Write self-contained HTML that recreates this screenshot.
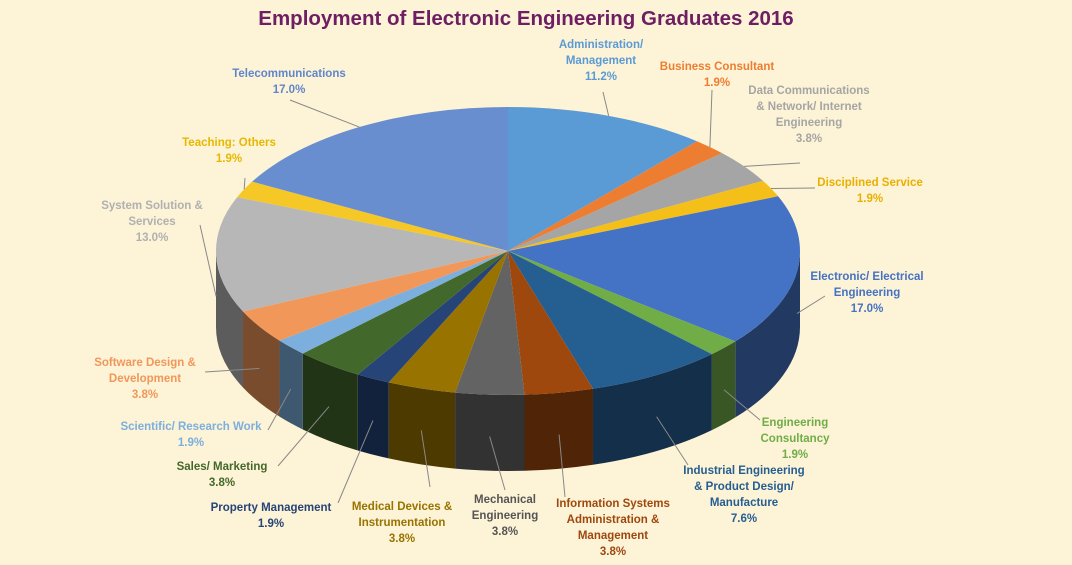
<!DOCTYPE html>
<html><head><meta charset="utf-8">
<style>
html,body{margin:0;padding:0;background:#fdf3d6;}
svg{display:block;font-family:"Liberation Sans",sans-serif;}
</style></head>
<body>
<svg id="chart" width="1072" height="565" viewBox="0 0 1072 565">
<rect x="0" y="0" width="1072" height="565" fill="#fdf3d6"/>
<text x="526" y="25" text-anchor="middle" font-size="20.5" font-weight="bold" fill="#6e1f63">Employment of Electronic Engineering Graduates 2016</text>
<g id="walls"></g><g id="tops"></g><g id="leaders"></g><g id="labels"></g>
</svg>
<script>
const categories=["Administration/ Management","Business Consultant","Data Communications & Network/ Internet Engineering","Disciplined Service","Electronic/ Electrical Engineering","Engineering Consultancy","Industrial Engineering & Product Design/ Manufacture","Information Systems Administration & Management","Mechanical Engineering","Medical Devices & Instrumentation","Property Management","Sales/ Marketing","Scientific/ Research Work","Software Design & Development","System Solution & Services","Teaching: Others","Telecommunications"];
const values=[11.2,1.9,3.8,1.9,17.0,1.9,7.6,3.8,3.8,3.8,1.9,3.8,1.9,3.8,13.0,1.9,17.0];
const valueLabels=["11.2%","1.9%","3.8%","1.9%","17.0%","1.9%","7.6%","3.8%","3.8%","3.8%","1.9%","3.8%","1.9%","3.8%","13.0%","1.9%","17.0%"];
const colors=["#5b9bd5","#ed7d31","#a5a5a5","#f5bf1a","#4472c4","#70ad47","#255e91","#9e480e","#636363","#997300","#264478","#43682b","#7cafdd","#f1975a","#b7b7b7","#f5c828","#698ed0"];
const labelColors=["#5b9bd5","#ed7d31","#a5a5a5","#e8b000","#4472c4","#70ad47","#255e91","#9e480e","#555555","#997300","#264478","#43682b","#7cafdd","#f1975a","#b0b0b0","#e8b800","#5f86cc"];
const labelLines=[["Administration/","Management"],["Business Consultant"],["Data Communications","& Network/ Internet","Engineering"],["Disciplined Service"],["Electronic/ Electrical","Engineering"],["Engineering","Consultancy"],["Industrial Engineering","& Product Design/","Manufacture"],["Information Systems","Administration &","Management"],["Mechanical","Engineering"],["Medical Devices &","Instrumentation"],["Property Management"],["Sales/ Marketing"],["Scientific/ Research Work"],["Software Design &","Development"],["System Solution &","Services"],["Teaching: Others"],["Telecommunications"]];
const labelPos=[[601,48],[717,70],[809,94],[870,186],[867,280],[795,426],[744,474],[613,507],[505,503],[402,510],[271,511],[222,470],[191,430],[145,366],[152,209],[229,146],[289,77]];
const leaderEnd=[[603,92],[712,90],[800,163],[815,188],[825,296],[760,420],[688,465],[565,497],[505,490],[430,487],[338,503],[278,466],[268,430],[205,372],[200,225],[245,178],[290,100]];
const cx=508,cy=251,rx=292,ry=144,depth=76;
const NS="http://www.w3.org/2000/svg";
function P(t,dy){return [cx+rx*Math.sin(t),cy-ry*Math.cos(t)+(dy||0)];}
function dark(h,f){const n=parseInt(h.slice(1),16);const r=Math.round((n>>16&255)*f),g=Math.round((n>>8&255)*f),b=Math.round((n&255)*f);return `rgb(${r},${g},${b})`;}
const total=values.reduce((a,b)=>a+b,0);
const walls=document.getElementById('walls'),tops=document.getElementById('tops'),leaders=document.getElementById('leaders'),labels=document.getElementById('labels');
let acc=0;
values.forEach((v,i)=>{
 const a=acc/total*2*Math.PI;acc+=v;const b=acc/total*2*Math.PI;
 const wa=Math.max(a,Math.PI/2),wb=Math.min(b,3*Math.PI/2);
 if(wb>wa){
  const p1=P(wa),p2=P(wb),p3=P(wb,depth),p4=P(wa,depth);
  const w=document.createElementNS(NS,'path');
  w.setAttribute('d',`M${p1}A${rx} ${ry} 0 0 1 ${p2}L${p3}A${rx} ${ry} 0 0 0 ${p4}Z`);
  w.setAttribute('fill',dark(colors[i],0.5));
  
  
  walls.appendChild(w);
 }
 const s=P(a),e=P(b),large=(b-a)>Math.PI?1:0;
 const t=document.createElementNS(NS,'path');
 t.setAttribute('d',`M${cx},${cy}L${s}A${rx} ${ry} 0 ${large} 1 ${e}Z`);
 t.setAttribute('fill',colors[i]);
 
 
 tops.appendChild(t);
 const m=(a+b)/2;const front=m>Math.PI/2&&m<3*Math.PI/2;
 const q=P(m,front?depth*0.55:0);
 const ln=document.createElementNS(NS,'line');
 ln.setAttribute('x1',leaderEnd[i][0]);ln.setAttribute('y1',leaderEnd[i][1]);
 ln.setAttribute('x2',q[0]);ln.setAttribute('y2',q[1]);
 ln.setAttribute('stroke','#888');ln.setAttribute('stroke-width','1');
 
 
 leaders.appendChild(ln);
 const tx=document.createElementNS(NS,'text');
 tx.setAttribute('x',labelPos[i][0]);tx.setAttribute('y',labelPos[i][1]);
 tx.setAttribute('text-anchor','middle');tx.setAttribute('font-size','11.5');tx.setAttribute('font-weight','bold');
 tx.setAttribute('fill',labelColors[i]);
 
 
 labelLines[i].concat([valueLabels[i]]).forEach((l,k)=>{const sp=document.createElementNS(NS,'tspan');sp.setAttribute('x',labelPos[i][0]);sp.setAttribute('dy',k?16:0);sp.textContent=l;tx.appendChild(sp);});
 labels.appendChild(tx);
});
</script>
</body></html>
